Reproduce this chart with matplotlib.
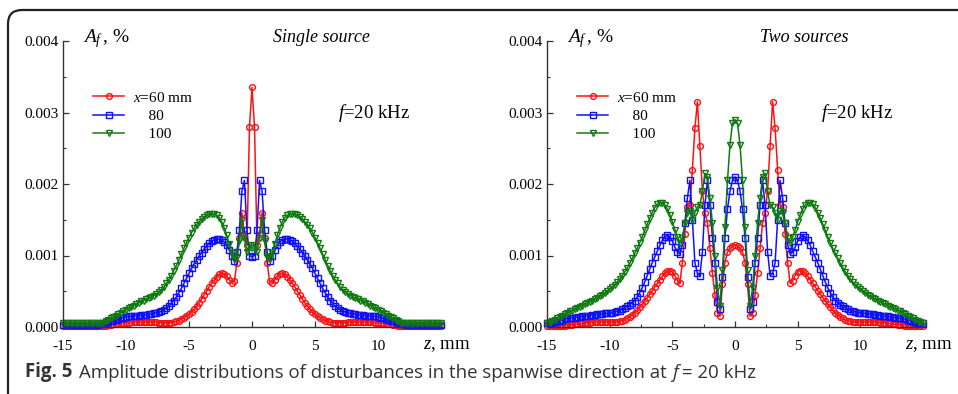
import numpy as np
import matplotlib
matplotlib.use("Agg")
import matplotlib.pyplot as plt
from matplotlib.ticker import MultipleLocator, FormatStrFormatter
from matplotlib.patches import FancyBboxPatch
from matplotlib.transforms import IdentityTransform

# --------------------
# Data: amplitude A_f (units of 1e-4 %) vs spanwise z (mm), step 0.2 mm
# --------------------
z = np.round(np.arange(-150, 151, 2) / 10.0, 1)

# single source
single_60 = [
    0.1, 0.1, 0.1, 0.1, 0.1, 0.1, 0.1, 0.1, 0.1, 0.1,
    0.1, 0.1, 0.1, 0.1, 0.1, 0.2, 0.2, 0.2, 0.3, 0.3,
    0.4, 0.4, 0.5, 0.5, 0.6, 0.6, 0.6, 0.7, 0.7, 0.7,
    0.7, 0.7, 0.7, 0.7, 0.7, 0.7, 0.7, 0.7, 0.6, 0.6,
    0.6, 0.6, 0.6, 0.6, 0.7, 0.8, 0.9, 1.1, 1.3, 1.5,
    1.8, 2.1, 2.5, 2.9, 3.4, 3.9, 4.5, 5.0, 5.6, 6.1,
    6.6, 7.0, 7.4, 7.5, 7.4, 7.1, 6.6, 6.2, 6.4, 9.0,
    12.5, 16.0, 13.0, 11.5, 28.0, 33.5,
    28.0, 11.5, 13.0, 16.0, 12.5,
    9.0, 6.4, 6.2, 6.6, 7.1, 7.4, 7.5, 7.4, 7.0, 6.6,
    6.1, 5.6, 5.0, 4.5, 3.9, 3.4, 2.9, 2.5, 2.1, 1.8,
    1.5, 1.3, 1.1, 0.9, 0.8, 0.7, 0.6, 0.6, 0.6, 0.6,
    0.6, 0.6, 0.7, 0.7, 0.7, 0.7, 0.7, 0.7, 0.7, 0.7,
    0.7, 0.7, 0.7, 0.6, 0.6, 0.6, 0.5, 0.5, 0.4, 0.4,
    0.3, 0.3, 0.2, 0.2, 0.2, 0.1, 0.1, 0.1, 0.1, 0.1,
    0.1, 0.1, 0.1, 0.1, 0.1, 0.1, 0.1, 0.1, 0.1, 0.1,
]
single_80 = [
    0.3, 0.3, 0.3, 0.3, 0.3, 0.3, 0.3, 0.3, 0.3, 0.3,
    0.3, 0.3, 0.3, 0.3, 0.3, 0.4, 0.5, 0.6, 0.7, 0.8,
    0.9, 1.0, 1.1, 1.2, 1.3, 1.4, 1.5, 1.5, 1.6, 1.6,
    1.6, 1.7, 1.7, 1.7, 1.8, 1.8, 1.9, 2.0, 2.1, 2.2,
    2.4, 2.6, 2.9, 3.3, 3.7, 4.2, 4.8, 5.4, 6.1, 6.8,
    7.5, 8.2, 8.8, 9.4, 9.9, 10.4, 10.9, 11.3, 11.7, 12.0,
    12.2, 12.3, 12.3, 12.2, 11.9, 11.4, 10.7, 9.9, 9.3, 10.5,
    13.5, 19.0, 20.5, 13.5, 10.0, 9.8,
    10.0, 13.5, 20.5, 19.0, 13.5,
    10.5, 9.3, 9.9, 10.7, 11.4, 11.9, 12.2, 12.3, 12.3, 12.2,
    12.0, 11.7, 11.3, 10.9, 10.4, 9.9, 9.4, 8.8, 8.2, 7.5,
    6.8, 6.1, 5.4, 4.8, 4.2, 3.7, 3.3, 2.9, 2.6, 2.4,
    2.2, 2.1, 2.0, 1.9, 1.8, 1.8, 1.7, 1.7, 1.7, 1.6,
    1.6, 1.6, 1.5, 1.5, 1.4, 1.3, 1.2, 1.1, 1.0, 0.9,
    0.8, 0.7, 0.6, 0.5, 0.4, 0.3, 0.3, 0.3, 0.3, 0.3,
    0.3, 0.3, 0.3, 0.3, 0.3, 0.3, 0.3, 0.3, 0.3, 0.3,
]
single_100 = [
    0.6, 0.6, 0.6, 0.6, 0.6, 0.6, 0.6, 0.6, 0.6, 0.6,
    0.6, 0.6, 0.6, 0.5, 0.5, 0.5, 0.6, 0.8, 1.0, 1.2,
    1.4, 1.6, 1.8, 2.0, 2.2, 2.4, 2.6, 2.8, 3.0, 3.2,
    3.4, 3.6, 3.7, 3.9, 4.0, 4.2, 4.4, 4.6, 4.9, 5.2,
    5.6, 6.1, 6.6, 7.2, 7.9, 8.6, 9.4, 10.2, 11.0, 11.8,
    12.5, 13.2, 13.8, 14.3, 14.7, 15.1, 15.4, 15.6, 15.8, 15.8,
    15.8, 15.6, 15.3, 14.7, 13.8, 12.8, 11.6, 10.4, 9.5, 9.8,
    12.0, 15.0, 12.5, 10.5, 11.5, 11.0,
    11.5, 10.5, 12.5, 15.0, 12.0,
    9.8, 9.5, 10.4, 11.6, 12.8, 13.8, 14.7, 15.3, 15.6, 15.8,
    15.8, 15.8, 15.6, 15.4, 15.1, 14.7, 14.3, 13.8, 13.2, 12.5,
    11.8, 11.0, 10.2, 9.4, 8.6, 7.9, 7.2, 6.6, 6.1, 5.6,
    5.2, 4.9, 4.6, 4.4, 4.2, 4.0, 3.9, 3.7, 3.6, 3.4,
    3.2, 3.0, 2.8, 2.6, 2.4, 2.2, 2.0, 1.8, 1.6, 1.4,
    1.2, 1.0, 0.8, 0.6, 0.5, 0.5, 0.5, 0.6, 0.6, 0.6,
    0.6, 0.6, 0.6, 0.6, 0.6, 0.6, 0.6, 0.6, 0.6, 0.6,
]

# two sources
two_60 = [
    0.1, 0.1, 0.1, 0.1, 0.2, 0.2, 0.2, 0.2, 0.3, 0.3,
    0.3, 0.4, 0.4, 0.5, 0.5, 0.6, 0.6, 0.6, 0.7, 0.7,
    0.7, 0.7, 0.7, 0.7, 0.7, 0.7, 0.7, 0.7, 0.7, 0.8,
    0.9, 1.0, 1.2, 1.4, 1.7, 2.0, 2.4, 2.8, 3.2, 3.7,
    4.1, 4.6, 5.1, 5.6, 6.1, 6.6, 7.1, 7.5, 7.8, 7.9,
    7.7, 7.2, 6.5, 6.1, 9.0, 13.0, 16.8, 17.0, 22.0, 27.8,
    31.5, 25.3, 19.0, 16.0, 14.5, 11.0, 7.5, 4.5, 2.0, 1.5,
    6.0, 9.0, 10.5, 11.0, 11.3, 11.5,
    11.3, 11.0, 10.5, 9.0, 6.0,
    1.5, 2.0, 4.5, 7.5, 11.0, 14.5, 16.0, 19.0, 25.3, 31.5,
    27.8, 22.0, 17.0, 16.8, 13.0, 9.0, 6.1, 6.5, 7.2, 7.7,
    7.9, 7.8, 7.5, 7.1, 6.6, 6.1, 5.6, 5.1, 4.6, 4.1,
    3.7, 3.2, 2.8, 2.4, 2.0, 1.7, 1.4, 1.2, 1.0, 0.9,
    0.8, 0.7, 0.7, 0.7, 0.7, 0.7, 0.7, 0.7, 0.7, 0.7,
    0.7, 0.7, 0.6, 0.6, 0.6, 0.5, 0.5, 0.4, 0.4, 0.3,
    0.3, 0.3, 0.2, 0.2, 0.2, 0.2, 0.1, 0.1, 0.1, 0.1,
]
two_80 = [
    0.5, 0.5, 0.6, 0.7, 0.8, 0.9, 1.0, 1.1, 1.2, 1.2,
    1.3, 1.3, 1.4, 1.4, 1.5, 1.5, 1.6, 1.6, 1.7, 1.7,
    1.8, 1.8, 1.8, 1.9, 1.9, 2.0, 2.0, 2.1, 2.2, 2.3,
    2.5, 2.7, 2.9, 3.1, 3.4, 3.7, 4.2, 4.8, 5.5, 6.3,
    7.2, 8.1, 9.0, 9.8, 10.6, 11.4, 12.1, 12.6, 12.8, 12.6,
    12.0, 11.2, 10.5, 10.2, 11.5, 14.5, 18.0, 20.5, 15.0, 9.0,
    7.5, 7.2, 10.5, 17.0, 20.5, 17.0, 12.5, 9.0, 3.5, 2.5,
    7.0, 12.5, 16.5, 19.0, 20.5, 21.0,
    20.5, 19.0, 16.5, 12.5, 7.0,
    2.5, 3.5, 9.0, 12.5, 17.0, 20.5, 17.0, 10.5, 7.2, 7.5,
    9.0, 15.0, 20.5, 18.0, 14.5, 11.5, 10.2, 10.5, 11.2, 12.0,
    12.6, 12.8, 12.6, 12.1, 11.4, 10.6, 9.8, 9.0, 8.1, 7.2,
    6.3, 5.5, 4.8, 4.2, 3.7, 3.4, 3.1, 2.9, 2.7, 2.5,
    2.3, 2.2, 2.1, 2.0, 2.0, 1.9, 1.9, 1.8, 1.8, 1.8,
    1.7, 1.7, 1.6, 1.6, 1.5, 1.5, 1.4, 1.4, 1.3, 1.3,
    1.2, 1.2, 1.1, 1.0, 0.9, 0.8, 0.7, 0.6, 0.5, 0.5,
]
two_100 = [
    0.6, 0.7, 0.8, 1.0, 1.2, 1.4, 1.6, 1.8, 2.0, 2.2,
    2.3, 2.5, 2.7, 2.8, 3.0, 3.2, 3.3, 3.5, 3.7, 3.9,
    4.1, 4.3, 4.5, 4.7, 5.0, 5.3, 5.6, 5.9, 6.3, 6.7,
    7.2, 7.7, 8.3, 8.9, 9.6, 10.3, 11.0, 11.8, 12.6, 13.5,
    14.4, 15.2, 16.0, 16.7, 17.2, 17.4, 17.4, 17.1, 16.5, 15.7,
    14.7, 13.6, 12.6, 11.8, 12.5, 14.5, 16.0, 16.2, 15.0, 16.0,
    16.8, 17.0, 19.0, 21.5, 21.0, 18.0, 14.5, 10.0, 5.5, 3.0,
    8.0, 14.0, 20.5, 25.5, 28.5, 29.0,
    28.5, 25.5, 20.5, 14.0, 8.0,
    3.0, 5.5, 10.0, 14.5, 18.0, 21.0, 21.5, 19.0, 17.0, 16.8,
    16.0, 15.0, 16.2, 16.0, 14.5, 12.5, 11.8, 12.6, 13.6, 14.7,
    15.7, 16.5, 17.1, 17.4, 17.4, 17.2, 16.7, 16.0, 15.2, 14.4,
    13.5, 12.6, 11.8, 11.0, 10.3, 9.6, 8.9, 8.3, 7.7, 7.2,
    6.7, 6.3, 5.9, 5.6, 5.3, 5.0, 4.7, 4.5, 4.3, 4.1,
    3.9, 3.7, 3.5, 3.3, 3.2, 3.0, 2.8, 2.7, 2.5, 2.3,
    2.2, 2.0, 1.8, 1.6, 1.4, 1.2, 1.0, 0.8, 0.7, 0.6,
]

labels = ['$x$=60 mm', '    80', '    100']
colors = ['#ff1010', '#1010ff', '#107a10']
markers = ['o', 's', 'v']
msizes = [4.2, 4.8, 4.6]
titles = ['Single source', 'Two sources']

# --------------------
# Style
# --------------------
plt.rcParams['font.family'] = 'Liberation Serif'
plt.rcParams['mathtext.fontset'] = 'custom'
plt.rcParams['mathtext.rm'] = 'Liberation Serif'
plt.rcParams['mathtext.it'] = 'Liberation Serif:italic'
plt.rcParams['axes.unicode_minus'] = False
plt.rcParams['font.size'] = 11

fig = plt.figure(figsize=(9.58, 3.94), dpi=100)

# rounded frame around the figure (open to right/bottom like the page crop)
frame = FancyBboxPatch((8, -60), 1100, 444, boxstyle='round,pad=0,rounding_size=14',
                       transform=IdentityTransform(), fill=False, edgecolor='#222222', lw=1.6)
fig.add_artist(frame)

ax1 = fig.add_axes([63 / 958, 67 / 394, 380.5 / 958, 286 / 394])
ax2 = fig.add_axes([547 / 958, 67 / 394, 378.5 / 958, 286 / 394])

panels = [
    (ax1, [single_60, single_80, single_100]),
    (ax2, [two_60, two_80, two_100]),
]

for i, (ax, series) in enumerate(panels):
    for vals, lab, c, m, ms in zip(series, labels, colors, markers, msizes):
        ax.plot(z, np.array(vals) * 1e-4, color=c, marker=m, ms=ms, mfc='none',
                mec=c, mew=1.0, lw=1.1, label=lab, clip_on=False)

    ax.set_xlim(-15, 15.2)
    ax.set_ylim(0, 0.004)
    ax.set_xticks([-15, -10, -5, 0, 5, 10])
    ax.xaxis.set_minor_locator(MultipleLocator(2.5))
    ax.yaxis.set_major_locator(MultipleLocator(0.001))
    ax.yaxis.set_minor_locator(MultipleLocator(0.0005))
    ax.yaxis.set_major_formatter(FormatStrFormatter('%.3f'))
    ax.tick_params(axis='both', which='both', direction='in', labelsize=11, colors='#333333',
                   labelcolor='black')
    ax.tick_params(axis='both', which='major', length=4, width=0.9)
    ax.tick_params(axis='both', which='minor', length=2.5, width=0.8)
    ax.tick_params(axis='x', pad=9)
    ax.tick_params(axis='y', pad=3)
    for s in ['top', 'right']:
        ax.spines[s].set_visible(False)
    for s in ['left', 'bottom']:
        ax.spines[s].set_color('#333333')
        ax.spines[s].set_linewidth(1.0)

    ax.text(0.053, 0.997, r'$A_f\,$, %', transform=ax.transAxes, fontsize=14,
            ha='left', va='baseline')
    ax.text(0.68, 0.997, titles[i], transform=ax.transAxes, fontsize=13,
            style='italic', ha='center', va='baseline')
    ax.text(0.724, 0.748, r'$f$=20 kHz', transform=ax.transAxes, fontsize=13.5,
            ha='left', va='center')
    ax.text(0.947, -0.063, r'$z$, mm', transform=ax.transAxes, fontsize=13.5,
            ha='left', va='center')
    ax.legend(loc='upper left', bbox_to_anchor=(0.08, 0.826), frameon=False, fontsize=11,
              handlelength=2.0, handletextpad=0.6, labelspacing=0.3, borderpad=0,
              borderaxespad=0)

# caption (pieces chained left to right, all bottom-aligned on the same line)
cap_kw = dict(fontsize=13.4, family='Open Sans', color='#333333', va='bottom')
t1 = fig.text(25 / 958, 1 - 382 / 394, 'Fig. 5', weight='bold', ha='left', **cap_kw)
t2 = ax1.annotate('Amplitude distributions of disturbances in the spanwise direction at',
                  xy=(1, 0), xycoords=t1, xytext=(5, 0), textcoords='offset points',
                  annotation_clip=False, **cap_kw)
t3 = ax1.annotate('f', xy=(1, 0), xycoords=t2, xytext=(3.5, 0), textcoords='offset points',
                  style='italic', annotation_clip=False, **cap_kw)
t4 = ax1.annotate('= 20 kHz', xy=(1, 0), xycoords=t3, xytext=(3, 0),
                  textcoords='offset points', annotation_clip=False, **cap_kw)

fig.savefig('out.png', dpi=100)
